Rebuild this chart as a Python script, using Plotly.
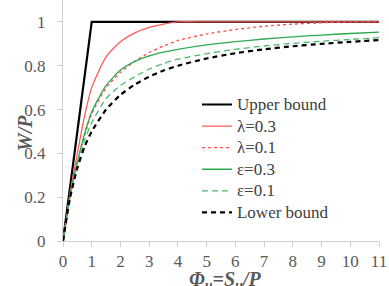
import plotly.graph_objects as go

# Data
x_upper = [0, 1, 11]
y_upper = [0, 1, 1]

x_pts = [0, 0.25, 0.5, 0.75, 1, 1.5, 2, 2.5, 3, 3.5, 4, 5, 6, 7, 8, 9, 10, 11]
lam03 = [0, 0.22, 0.40, 0.57, 0.70, 0.84, 0.91, 0.95, 0.975, 0.99, 1.0, 1.0, 1.0, 1.0, 1.0, 1.0, 1.0, 1.0]
lam01 = [0, 0.21, 0.36, 0.48, 0.58, 0.70, 0.77, 0.82, 0.86, 0.89, 0.915, 0.945, 0.965, 0.98, 0.99, 0.996, 1.0, 1.0]
eps03 = [0, 0.21, 0.36, 0.49, 0.59, 0.71, 0.78, 0.82, 0.845, 0.862, 0.875, 0.895, 0.91, 0.922, 0.932, 0.94, 0.947, 0.953]
eps01 = [0, 0.205, 0.35, 0.46, 0.54, 0.65, 0.71, 0.75, 0.785, 0.81, 0.83, 0.855, 0.875, 0.89, 0.902, 0.912, 0.92, 0.928]
lower = [0, 0.20, 0.333, 0.43, 0.50, 0.60, 0.667, 0.714, 0.75, 0.778, 0.80, 0.833, 0.857, 0.875, 0.889, 0.90, 0.909, 0.917]

x_ticks = list(range(0, 12))
y_ticks = [0, 0.2, 0.4, 0.6, 0.8, 1]
y_tick_text = ["0", "0.2", "0.4", "0.6", "0.8", "1"]

FONT = "Times New Roman, Liberation Serif, serif"
GRAY = "#595959"

fig = go.Figure()
series = [
    ("Upper bound", x_upper, y_upper, "#000000", 2.2, "solid"),
    ("λ=0.3", x_pts, lam03, "#ff5a5a", 1.3, "solid"),
    ("λ=0.1", x_pts, lam01, "#ff4a4a", 1.3, "3px,3px"),
    ("ε=0.3", x_pts, eps03, "#2eaa50", 1.3, "solid"),
    ("ε=0.1", x_pts, eps01, "#4cb870", 1.3, "6px,4px"),
    ("Lower bound", x_pts, lower, "#000000", 2.2, "5px,4px"),
]
for name, xs, ys, col, w, dash in series:
    fig.add_trace(go.Scatter(x=xs, y=ys, mode="lines",
                             name='<span style="font-size:17px">' + name + '</span>',
                             line=dict(color=col, width=w, dash=dash, shape="spline",
                                       smoothing=0.6 if name != "Upper bound" else 0),
                             legendgroup=name))

axis_common = dict(showgrid=False, zeroline=False, showline=True, linecolor="#d0d0d0",
                   linewidth=1, ticks="outside", ticklen=5, tickcolor="#d0d0d0",
                   tickfont=dict(family=FONT, size=17, color=GRAY))

fig.update_xaxes(range=[0, 11], tickvals=x_ticks, ticklabelstandoff=0, **axis_common)
fig.update_yaxes(range=[0, 1.1], tickvals=y_ticks, ticktext=y_tick_text, ticklabelstandoff=8, **axis_common)

fig.update_layout(
    width=389, height=286,
    margin=dict(l=63, r=10, t=0, b=45),
    paper_bgcolor="white", plot_bgcolor="white",
    font=dict(family=FONT),
    showlegend=True,
    legend=dict(x=0.424, y=0.632, xanchor="left", yanchor="top",
                font=dict(family=FONT, size=14.3, color="#404040"),
                bgcolor="rgba(0,0,0,0)", traceorder="grouped", tracegroupgap=0),
    annotations=[
        dict(text="<b><i>W/P</i></b>", xref="paper", yref="paper",
             x=-0.161, y=0.448, showarrow=False, textangle=-90,
             font=dict(family=FONT, size=20, color=GRAY)),
        dict(text="<b><i>Φ<sub>u</sub>=S<sub>u</sub>/P</i></b>", xref="paper", yref="paper",
             x=0.513, y=-0.165, yanchor="middle", showarrow=False,
             font=dict(family=FONT, size=20, color=GRAY)),
    ],
)

fig.write_html("out.html")
